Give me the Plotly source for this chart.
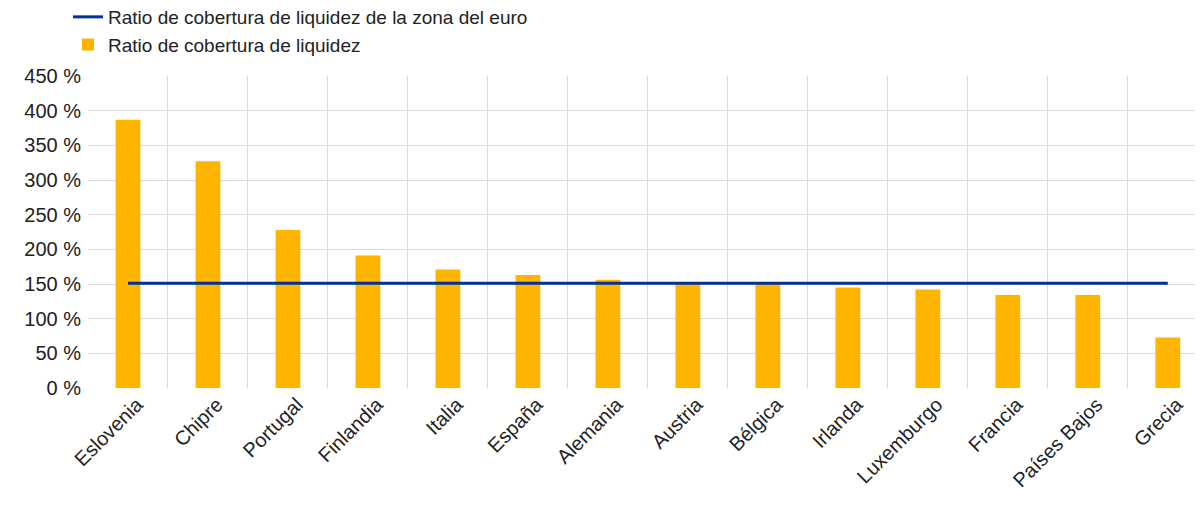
import plotly.graph_objects as go

countries = ["Eslovenia", "Chipre", "Portugal", "Finlandia", "Italia", "España",
             "Alemania", "Austria", "Bélgica", "Irlanda", "Luxemburgo", "Francia",
             "Países Bajos", "Grecia"]
lcr = [387, 327, 228, 191, 171, 163, 156, 151, 151, 145, 142, 134, 134, 73]
euro_area_lcr = [151, 151, 151, 151, 151, 151, 151, 151, 151, 151, 151, 151, 151, 151]
y_ticks = [0, 50, 100, 150, 200, 250, 300, 350, 400, 450]
y_ticktext = [f"{v} %" for v in y_ticks]

FONT = "Liberation Sans, Arial, sans-serif"

fig = go.Figure()
fig.add_trace(go.Bar(
    x=countries, y=lcr, name="Ratio de cobertura de liquidez",
    marker=dict(color="#FFB400", line=dict(width=0)), width=0.31,
))
fig.add_trace(go.Scatter(
    x=countries, y=euro_area_lcr, mode="lines",
    name="Ratio de cobertura de liquidez de la zona del euro",
    line=dict(color="#003299", width=3),
))

fig.update_layout(
    width=1203, height=510,
    margin=dict(l=80, r=0, t=68, b=130, autoexpand=False),
    paper_bgcolor="white", plot_bgcolor="white",
    font=dict(family=FONT, size=19, color="#222222"),
    showlegend=True,
    legend=dict(
        x=-0.0178, y=1.25, xanchor="left", yanchor="top",
        traceorder="reversed",
        font=dict(family=FONT, size=19, color="#222222"),
        bgcolor="rgba(0,0,0,0)", itemwidth=30, tracegroupgap=0,
    ),
    xaxis=dict(
        type="category", range=[-0.5, 13.54], tickson="boundaries",
        showgrid=True, gridcolor="#d9d9de", gridwidth=1, automargin=False,
        tickangle=-45, ticks="", showline=False, zeroline=False,
        ticklabelshift=9,
        tickfont=dict(family=FONT, size=20, color="#222222"),
    ),
    yaxis=dict(
        range=[0, 450], tickvals=y_ticks, ticktext=y_ticktext,
        showgrid=True, gridcolor="#d9d9de", gridwidth=1, automargin=False,
        zeroline=False, showline=False, ticks="", ticklabelstandoff=6,
        tickfont=dict(family=FONT, size=20, color="#222222"),
    ),
)

fig.write_html("out.html")
